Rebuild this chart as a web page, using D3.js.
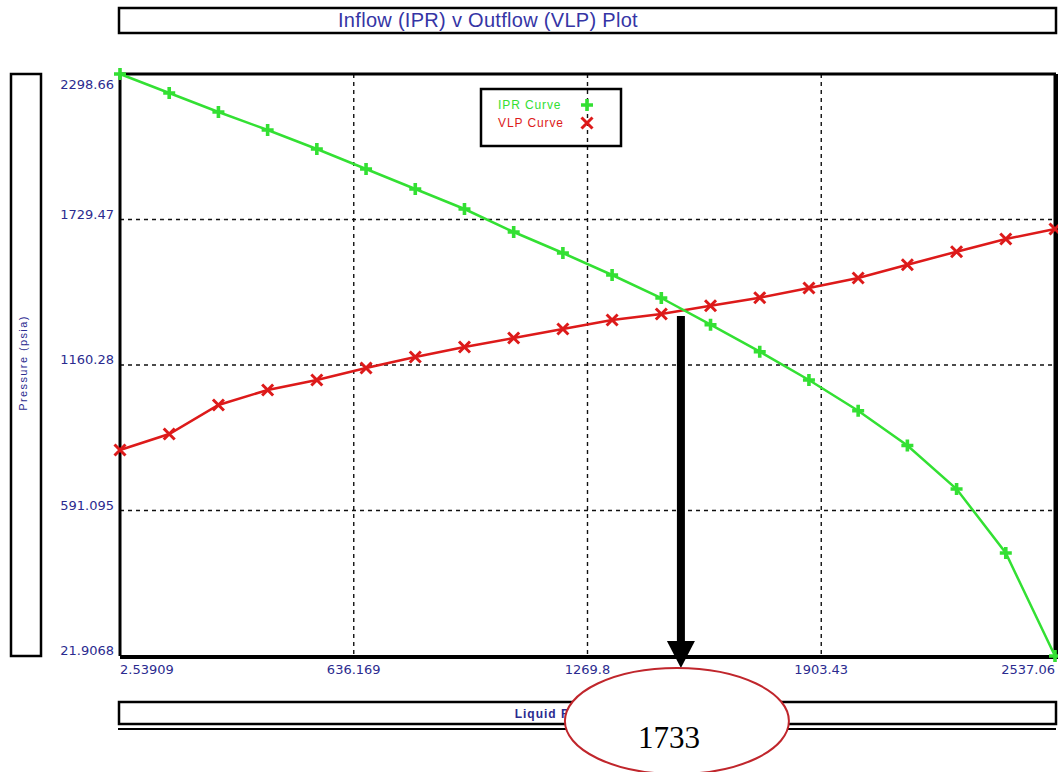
<!DOCTYPE html>
<html>
<head>
<meta charset="utf-8">
<script src="https://cdn.jsdelivr.net/npm/d3@7"></script>
<style>
  body { margin: 0; background: #fff; }
  svg { display: block; }
</style>
</head>
<body>
<div id="chart"></div>
<script>
// liquid rate (STB/day) at each calculated point
const rates = [2.53909, 135.94, 269.33, 402.73, 536.12, 669.52, 802.92, 936.31, 1069.71, 1203.10,
  1336.50, 1469.90, 1603.29, 1736.69, 1870.08, 2003.48, 2136.88, 2270.27, 2403.67, 2537.06];
// inflow (IPR) pressure, psia
const iprPressure = [2298.66, 2224.4, 2150.0, 2079.6, 2005.3, 1927.1, 1848.8, 1770.5, 1680.6, 1598.4,
  1512.4, 1422.4, 1317.9, 1212.3, 1101.6, 981.5, 845.4, 675.2, 424.8, 21.9068];
// outflow (VLP) pressure, psia
const vlpPressure = [827.8, 890.4, 1003.8, 1062.5, 1101.6, 1148.6, 1191.6, 1230.7, 1265.9, 1301.1,
  1336.3, 1359.8, 1392.3, 1423.6, 1461.5, 1500.7, 1552.7, 1603.5, 1653.2, 1692.3];
const xTicks = [2.53909, 636.169, 1269.8, 1903.43, 2537.06];
const yTicks = [21.9068, 591.095, 1160.28, 1729.47, 2298.66];
const xTickLabels = ["2.53909", "636.169", "1269.8", "1903.43", "2537.06"];
const yTickLabels = ["21.9068", "591.095", "1160.28", "1729.47", "2298.66"];
const opPointRate = 1523;     // where the arrow drops from the crossing
const opPointStart = 1352;    // pressure just under the crossing
const opPointLabel = "1733";

const W = 1058, H = 772;
const pLeft = 120, pRight = 1056, pTop = 74, pBottom = 656;
const blue = "#2b2b8f";
const green = "#33e033";
const red = "#dd1a1a";

const svg = d3.select("#chart").append("svg")
  .attr("width", W).attr("height", H);

const x = d3.scaleLinear().domain([xTicks[0], xTicks[4]]).range([pLeft, pRight - 1]);
const y = d3.scaleLinear().domain([yTicks[0], yTicks[4]]).range([pBottom, pTop]);

// title box
svg.append("rect")
  .attr("x", 119).attr("y", 8).attr("width", pRight - 119).attr("height", 25)
  .attr("fill", "none").attr("stroke", "#000").attr("stroke-width", 2.5);
svg.append("text")
  .attr("x", 488).attr("y", 27)
  .attr("text-anchor", "middle")
  .attr("font-family", "Liberation Sans, Arial, sans-serif")
  .attr("font-size", 20)
  .attr("letter-spacing", 0.3)
  .attr("fill", "#3535a5")
  .text("Inflow (IPR) v Outflow (VLP) Plot");

// y label box
svg.append("rect")
  .attr("x", 11).attr("y", pTop).attr("width", 30).attr("height", pBottom - pTop)
  .attr("fill", "none").attr("stroke", "#000").attr("stroke-width", 2.5);
svg.append("text")
  .attr("transform", `translate(27,${(pTop + pBottom) / 2 - 2}) rotate(-90)`)
  .attr("text-anchor", "middle")
  .attr("font-family", "Liberation Sans, Arial, sans-serif")
  .attr("font-size", 11)
  .attr("letter-spacing", 1.4)
  .attr("fill", blue)
  .text("Pressure (psia)");

// grid lines
svg.append("g")
  .selectAll("line")
  .data(xTicks.slice(1, -1))
  .join("line")
  .attr("x1", d => x(d)).attr("x2", d => x(d))
  .attr("y1", pTop).attr("y2", pBottom)
  .attr("stroke", "#111").attr("stroke-width", 1.4).attr("stroke-dasharray", "4,4");
svg.append("g")
  .selectAll("line")
  .data(yTicks.slice(1, -1))
  .join("line")
  .attr("x1", pLeft).attr("x2", pRight)
  .attr("y1", d => y(d)).attr("y2", d => y(d))
  .attr("stroke", "#111").attr("stroke-width", 1.4).attr("stroke-dasharray", "4,4");

// plot frame
svg.append("line").attr("x1", pLeft).attr("x2", pRight).attr("y1", pTop).attr("y2", pTop)
  .attr("stroke", "#000").attr("stroke-width", 3);
svg.append("line").attr("x1", pLeft).attr("x2", pLeft).attr("y1", pTop).attr("y2", pBottom)
  .attr("stroke", "#000").attr("stroke-width", 3);
svg.append("line").attr("x1", pLeft).attr("x2", pRight + 2).attr("y1", pBottom + 1).attr("y2", pBottom + 1)
  .attr("stroke", "#000").attr("stroke-width", 4);
svg.append("line").attr("x1", pRight).attr("x2", pRight).attr("y1", pTop).attr("y2", pBottom + 2)
  .attr("stroke", "#000").attr("stroke-width", 5);

// tick labels
svg.append("g")
  .selectAll("text")
  .data(yTicks)
  .join("text")
  .attr("x", 114)
  .attr("y", (d, i) => i === yTicks.length - 1 ? y(d) + 15 : y(d) - 1)
  .attr("text-anchor", "end")
  .attr("font-family", "DejaVu Sans, Verdana, sans-serif")
  .attr("font-size", 13)
  .attr("fill", blue)
  .text((d, i) => yTickLabels[i]);
svg.append("g")
  .selectAll("text")
  .data(xTicks)
  .join("text")
  .attr("x", d => x(d))
  .attr("y", 674)
  .attr("text-anchor", (d, i) => i === 0 ? "start" : i === xTicks.length - 1 ? "end" : "middle")
  .attr("font-family", "DejaVu Sans, Verdana, sans-serif")
  .attr("font-size", 13)
  .attr("fill", blue)
  .text((d, i) => xTickLabels[i]);

// curves
const line = d3.line().x(d => x(d[0])).y(d => y(d[1]));
const iprData = rates.map((r, i) => [r, iprPressure[i]]);
const vlpData = rates.map((r, i) => [r, vlpPressure[i]]);

svg.append("path").datum(vlpData)
  .attr("d", line).attr("fill", "none")
  .attr("stroke", red).attr("stroke-width", 2.5);
svg.append("path").datum(iprData)
  .attr("d", line).attr("fill", "none")
  .attr("stroke", green).attr("stroke-width", 2.5);

const plusPath = "M-1.8,-6L1.8,-6L1.8,-1.8L6,-1.8L6,1.8L1.8,1.8L1.8,6L-1.8,6L-1.8,1.8L-6,1.8L-6,-1.8L-1.8,-1.8Z";
const crossPath = "M-5.5,-5.5L5.5,5.5M-5.5,5.5L5.5,-5.5";

svg.append("g")
  .selectAll("path")
  .data(vlpData)
  .join("path")
  .attr("transform", d => `translate(${x(d[0])},${y(d[1])})`)
  .attr("d", crossPath)
  .attr("stroke", red).attr("stroke-width", 3).attr("fill", "none");
svg.append("g")
  .selectAll("path")
  .data(iprData)
  .join("path")
  .attr("transform", d => `translate(${x(d[0])},${y(d[1])})`)
  .attr("d", plusPath)
  .attr("fill", green);

// legend
const legend = svg.append("g").attr("transform", "translate(481,89)");
legend.append("rect")
  .attr("width", 140).attr("height", 57)
  .attr("fill", "none").attr("stroke", "#000").attr("stroke-width", 2.5);
const legendItems = [
  { name: "IPR Curve", color: green, marker: plusPath, filled: true },
  { name: "VLP Curve", color: red, marker: crossPath, filled: false }
];
legendItems.forEach((item, i) => {
  legend.append("text")
    .attr("x", 17).attr("y", 20 + i * 18)
    .attr("font-family", "Liberation Sans, Arial, sans-serif")
    .attr("font-size", 12)
    .attr("letter-spacing", 0.9)
    .attr("fill", item.color)
    .text(item.name);
  legend.append("path")
    .attr("transform", `translate(106,${16 + i * 18})`)
    .attr("d", item.marker)
    .attr("fill", item.filled ? item.color : "none")
    .attr("stroke", item.filled ? "none" : item.color)
    .attr("stroke-width", 3);
});

// x label box with double underline
svg.append("rect")
  .attr("x", 119).attr("y", 702).attr("width", pRight - 119).attr("height", 22)
  .attr("fill", "none").attr("stroke", "#000").attr("stroke-width", 2.5);
svg.append("line")
  .attr("x1", 118).attr("x2", pRight).attr("y1", 729).attr("y2", 729)
  .attr("stroke", "#000").attr("stroke-width", 2);
svg.append("text")
  .attr("x", (119 + pRight) / 2).attr("y", 718)
  .attr("text-anchor", "middle")
  .attr("font-family", "Liberation Sans, Arial, sans-serif")
  .attr("font-size", 12)
  .attr("font-weight", "bold")
  .attr("letter-spacing", 1)
  .attr("fill", blue)
  .text("Liquid Rate (STB/day)");

// operating point arrow
const ax = x(opPointRate);
svg.append("rect")
  .attr("x", ax - 4).attr("y", y(opPointStart))
  .attr("width", 8).attr("height", 642 - y(opPointStart))
  .attr("fill", "#000");
svg.append("path")
  .attr("d", `M${ax - 14},641L${ax + 14},641L${ax},668Z`)
  .attr("fill", "#000");

// callout ellipse
svg.append("ellipse")
  .attr("cx", ax - 4).attr("cy", 721)
  .attr("rx", 112).attr("ry", 53)
  .attr("fill", "#fff").attr("stroke", "#c0262c").attr("stroke-width", 2);
svg.append("text")
  .attr("x", ax - 12).attr("y", 748)
  .attr("text-anchor", "middle")
  .attr("font-family", "Liberation Serif, Times New Roman, serif")
  .attr("font-size", 31)
  .attr("fill", "#000")
  .text(opPointLabel);
</script>
</body>
</html>
